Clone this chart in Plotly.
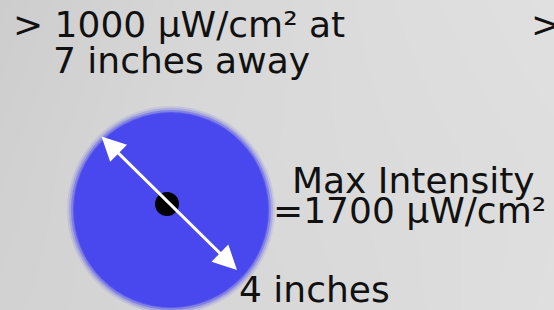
import plotly.graph_objects as go

# ---- content ----
top_line1 = "> 1000 μW/cm² at"
top_line2 = "7 inches away"
right_cut = ">"
max_label1 = "Max Intensity"
max_label2 = "=1700 μW/cm²"
diam_label = "4 inches"
max_intensity = 1700      # μW/cm²
threshold = 1000          # μW/cm²
distance_in = 7           # inches
diameter_in = 4           # inches

W, H = 554, 310
FONT = "DejaVu Sans"
FS = 36
BLUE = "rgb(72,72,238)"

fig = go.Figure()

# soft gray background
fig.add_trace(go.Heatmap(
    z=[[205, 214, 220, 224], [208, 216, 219, 222], [210, 214, 218, 223]],
    x=[0, 185, 370, 554], y=[0, 155, 310],
    colorscale=[[0, "rgb(205,205,205)"], [1, "rgb(226,226,226)"]],
    zmin=205, zmax=226, zsmooth="best", showscale=False, hoverinfo="skip"))

# blurred blue spot
cx, cy, r = 171, 210, 97
for dr, op in [(7, 0.12), (5, 0.22), (3, 0.4), (1, 0.7), (0, 1.0)]:
    fig.add_shape(type="circle", xref="x", yref="y",
                  x0=cx - r - dr, x1=cx + r + dr,
                  y0=cy - r - dr, y1=cy + r + dr,
                  fillcolor=BLUE, opacity=op, line_width=0, layer="above")

# center dot
dot_x, dot_y, dot_r = 167, 204, 12
fig.add_shape(type="circle", xref="x", yref="y",
              x0=dot_x - dot_r, x1=dot_x + dot_r,
              y0=dot_y - dot_r, y1=dot_y + dot_r,
              fillcolor="black", line_width=0, layer="above")

# double-headed white arrow
fig.add_annotation(x=237, y=270, ax=100, ay=135, xref="x", yref="y",
                   axref="x", ayref="y", text="", showarrow=True,
                   arrowhead=2, startarrowhead=2, arrowside="end+start",
                   arrowsize=1.6, startarrowsize=1.6, arrowwidth=3,
                   arrowcolor="white")

def txt(s, x, y_base):
    fig.add_annotation(x=x, y=y_base - 0.35 * FS, xref="x", yref="y",
                       text=s, showarrow=False, xanchor="left",
                       yanchor="middle",
                       font=dict(family=FONT, size=FS, color="#111111"))

txt(top_line1, 11, 37)
txt(top_line2, 51, 73)
txt(right_cut, 529, 37)
txt(max_label1, 290, 193)
txt(max_label2, 271, 223)
txt(diam_label, 237, 302)

fig.update_xaxes(range=[0, W], visible=False, fixedrange=True)
fig.update_yaxes(range=[H, 0], visible=False, fixedrange=True)
fig.update_layout(width=W, height=H, margin=dict(l=0, r=0, t=0, b=0),
                  paper_bgcolor="rgb(216,216,216)",
                  plot_bgcolor="rgb(216,216,216)", showlegend=False)

fig.write_html("out.html", config={"displayModeBar": False},
               post_script="document.body.style.margin='0';"
                           "document.body.style.padding='0';"
                           "document.body.style.overflow='hidden';")
